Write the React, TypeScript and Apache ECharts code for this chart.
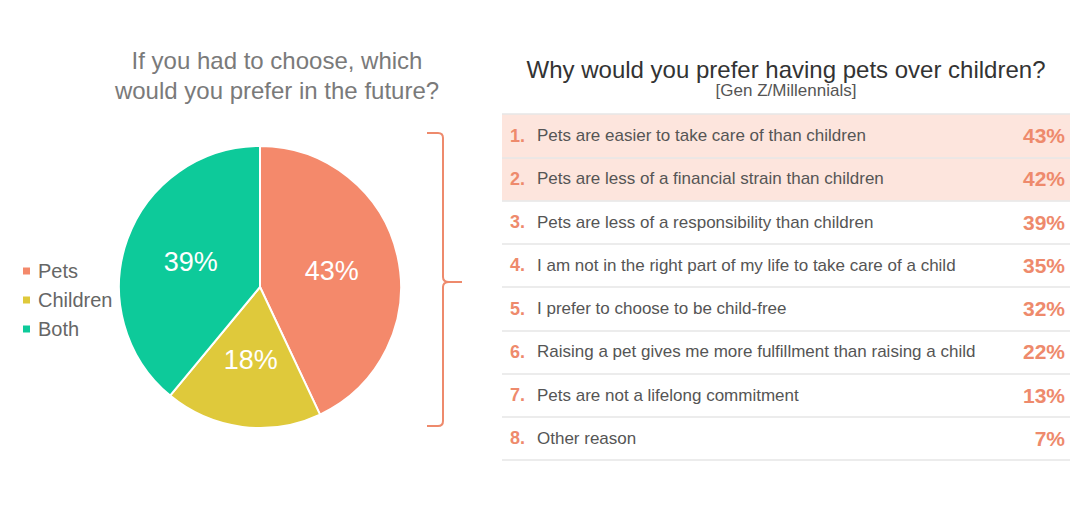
import React, { useEffect, useRef } from "react";
import * as echarts from "echarts";

const pieNames = ["Pets", "Children", "Both"];
const pieValues = [43, 18, 39];
const pieColors = ["#F4896B", "#DFC93B", "#0DCA9A"];

const reasonLabels = [
  "Pets are easier to take care of than children",
  "Pets are less of a financial strain than children",
  "Pets are less of a responsibility than children",
  "I am not in the right part of my life to take care of a child",
  "I prefer to choose to be child-free",
  "Raising a pet gives me more fulfillment than raising a child",
  "Pets are not a lifelong commitment",
  "Other reason",
];
const reasonValues = [43, 42, 39, 35, 32, 22, 13, 7];
const highlighted = [true, true, false, false, false, false, false, false];

const ACCENT = "#EE8A6C";
const FONT = "'Liberation Sans', Arial, sans-serif";

echarts.graphic.registerShape(
  "bracket",
  echarts.graphic.extendPath(
    "M427,133 L438,133 Q443,133 443,138 L443,277 Q443,282 449,282 L462,282 M449,282 Q443,282 443,287 L443,421 Q443,426 438,426 L427,426",
    {}
  )
);

export default function App() {
  const ref = useRef<HTMLDivElement>(null);
  useEffect(() => {
    if (!ref.current) return;
    const chart = echarts.init(ref.current, undefined, { renderer: "svg" });
    const cats = reasonLabels.map((l, i) => `${i + 1}.|${l}`);
    chart.setOption({
      animation: false,
      backgroundColor: "#ffffff",
      textStyle: { fontFamily: FONT },
      title: [
        {
          text: "If you had to choose, which\nwould you prefer in the future?",
          left: 272,
          top: 40,
          textAlign: "center",
          textStyle: { fontSize: 24, fontWeight: "normal", color: "#7a7a7a", lineHeight: 30, fontFamily: FONT },
        },
        {
          text: "Why would you prefer having pets over children?",
          subtext: "[Gen Z/Millennials]",
          left: 781,
          top: 52,
          textAlign: "center",
          itemGap: 1,
          textStyle: { fontSize: 24, fontWeight: "normal", color: "#333", fontFamily: FONT },
          subtextStyle: { fontSize: 17, color: "#555", fontFamily: FONT },
        },
      ],
      legend: {
        orient: "vertical",
        left: 16,
        top: 256,
        icon: "rect",
        itemWidth: 9,
        itemHeight: 9,
        itemGap: 9,
        data: pieNames,
        textStyle: { fontSize: 20, color: "#666", fontFamily: FONT, padding: [0, 0, 0, 2] },
      },
      grid: { left: 502, width: 568, top: 114, height: 346 },
      xAxis: { type: "value", min: 0, max: 1, show: false },
      yAxis: [
        {
          type: "category",
          inverse: true,
          data: cats,
          position: "left",
          z: 10,
          axisLine: { show: false },
          axisTick: { show: false },
          splitLine: { show: true, lineStyle: { color: "#e6e6e6", width: 1.5 } },
          axisLabel: {
            inside: true,
            margin: 8,
            formatter: (v: string) => {
              const [n, t] = v.split("|");
              return `{n|${n}}{t|${t}}`;
            },
            rich: {
              n: { width: 27, fontSize: 18, fontWeight: "bold", color: ACCENT, fontFamily: FONT },
              t: { fontSize: 17, color: "#555", fontFamily: FONT },
            },
          },
        },
        {
          type: "category",
          inverse: true,
          data: reasonValues.map((v) => `${v}%`),
          position: "right",
          z: 10,
          axisLine: { show: false },
          axisTick: { show: false },
          axisLabel: {
            inside: true,
            margin: 5,
            fontSize: 21,
            fontWeight: "bold",
            color: ACCENT,
            fontFamily: FONT,
          },
        },
      ],
      series: [
        {
          type: "bar",
          yAxisIndex: 0,
          silent: true,
          barWidth: "100%",
          data: highlighted.map((h) => (h ? 1 : "-")),
          itemStyle: { color: "#FDE5DD" },
          z: 1,
        },
        {
          type: "pie",
          center: [260, 287],
          radius: 141,
          startAngle: 90,
          clockwise: true,
          silent: true,
          data: pieNames.map((n, i) => ({ name: n, value: pieValues[i], itemStyle: { color: pieColors[i] } })),
          itemStyle: { borderColor: "#ffffff", borderWidth: 2 },
          label: {
            position: "inner",
            formatter: "{c}%",
            fontSize: 27,
            color: "#ffffff",
            fontFamily: FONT,
          },
          labelLine: { show: false },
        },
      ],
      graphic: [
        {
          type: "bracket",
          x: 0,
          y: 0,
          style: { stroke: ACCENT, lineWidth: 2, fill: null },
        },
      ],
    });
    return () => chart.dispose();
  }, []);
  return (
    <div
      ref={ref}
      style={{ position: "fixed", left: 0, top: 0, width: 1080, height: 510 }}
    />
  );
}
